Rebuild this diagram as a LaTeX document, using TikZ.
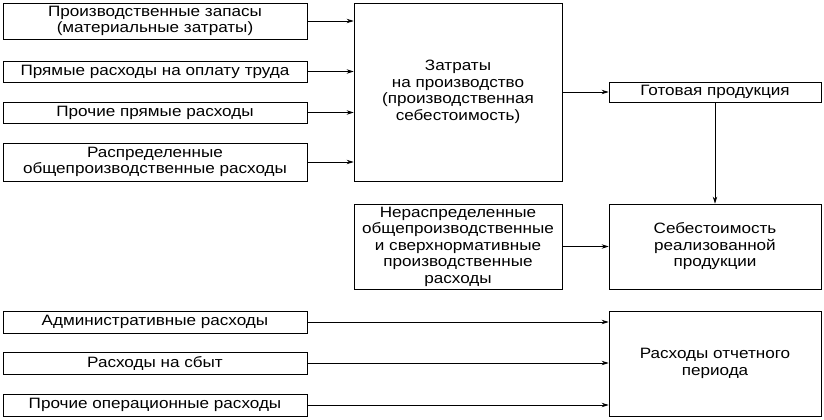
\documentclass[tikz,border=0pt]{standalone}
\usepackage{fontspec}
\setmainfont{Liberation Sans}[FakeStretch=1.14]
\usetikzlibrary{arrows.meta}

\tikzset{
  box/.style={draw, line width=0.8pt, align=center, inner sep=1pt,
    font=\fontsize{15}{16.5}\selectfont},
  flow/.style={line width=0.8pt, -{Stealth[length=7pt,width=4.5pt]}}
}

\begin{document}
\begin{tikzpicture}[x=1pt,y=-1pt]
\useasboundingbox (0,0) rectangle (824,420);
% left column
\node[box, minimum width=304pt, minimum height=36pt] (zapasy) at (155,21) {Производственные запасы\\(материальные затраты)};
\node[box, minimum width=304pt, minimum height=21pt] (oplata) at (155,71.5) {Прямые расходы на оплату труда};
\node[box, minimum width=304pt, minimum height=21pt] (prochie) at (155,112.5) {Прочие прямые расходы};
\node[box, minimum width=304pt, minimum height=38pt] (raspred) at (155,162) {Распределенные\\общепроизводственные расходы};
% middle and right
\node[box, minimum width=208pt, minimum height=178pt] (zatraty) at (458,92) {Затраты\\на производство\\(производственная\\себестоимость)};
\node[box, minimum width=212pt, minimum height=20pt] (gotovaya) at (715,92) {Готовая продукция};
\node[box, minimum width=208pt, minimum height=85pt] (nerasp) at (458,246.5) {Нераспределенные\\общепроизводственные\\и сверхнормативные\\производственные\\расходы};
\node[box, minimum width=212pt, minimum height=85pt] (sebest) at (715,246.5) {Себестоимость\\реализованной\\продукции};
% period costs
\node[box, minimum width=304pt, minimum height=22pt] (admin) at (155,322) {Административные расходы};
\node[box, minimum width=304pt, minimum height=22pt] (sbyt) at (155,363) {Расходы на сбыт};
\node[box, minimum width=304pt, minimum height=22pt] (oper) at (155,405) {Прочие операционные расходы};
\node[box, minimum width=212pt, minimum height=105pt] (otchet) at (715,363.5) {Расходы отчетного\\периода};

\foreach \src in {zapasy,oplata,prochie,raspred}
  \draw[flow] (\src.east) -- (\src.east -| zatraty.west);
\draw[flow] (zatraty.east |- gotovaya.west) -- (gotovaya.west);
\draw[flow] (gotovaya.south) -- (sebest.north);
\draw[flow] (nerasp.east) -- (sebest.west);
\foreach \src in {admin,sbyt,oper}
  \draw[flow] (\src.east) -- (\src.east -| otchet.west);
\end{tikzpicture}
\end{document}
